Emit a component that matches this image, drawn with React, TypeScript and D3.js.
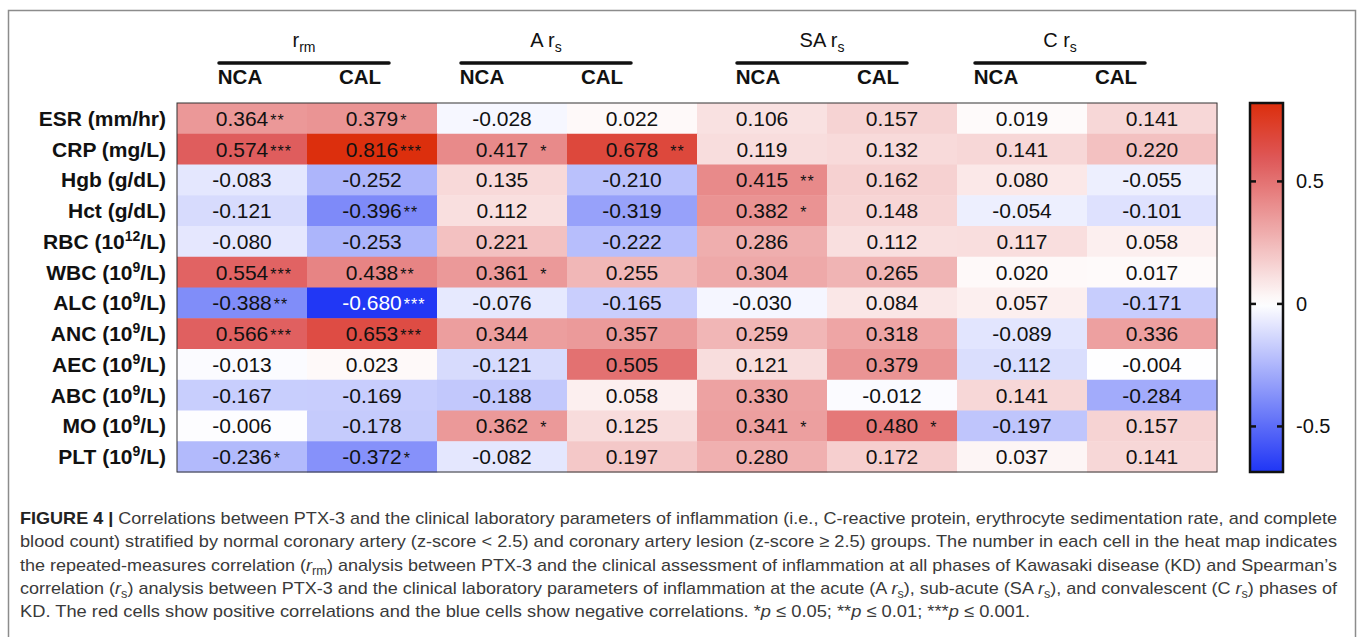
import React, { useEffect } from 'react';
import * as d3 from 'd3';

// rows of the heat map (^n marks a superscript)
const rowLabels = [
  'ESR (mm/hr)', 'CRP (mg/L)', 'Hgb (g/dL)', 'Hct (g/dL)', 'RBC (10^12/L)', 'WBC (10^9/L)',
  'ALC (10^9/L)', 'ANC (10^9/L)', 'AEC (10^9/L)', 'ABC (10^9/L)', 'MO (10^9/L)', 'PLT (10^9/L)',
];

const groupTitles = ['r', 'A r', 'SA r', 'C r'];
const groupSubs = ['rm', 's', 's', 's'];
const subgroups = ['NCA', 'CAL'];

// columns: rrm NCA, rrm CAL, A NCA, A CAL, SA NCA, SA CAL, C NCA, C CAL
const values = [
  [0.364, 0.379, -0.028, 0.022, 0.106, 0.157, 0.019, 0.141],
  [0.574, 0.816, 0.417, 0.678, 0.119, 0.132, 0.141, 0.220],
  [-0.083, -0.252, 0.135, -0.210, 0.415, 0.162, 0.080, -0.055],
  [-0.121, -0.396, 0.112, -0.319, 0.382, 0.148, -0.054, -0.101],
  [-0.080, -0.253, 0.221, -0.222, 0.286, 0.112, 0.117, 0.058],
  [0.554, 0.438, 0.361, 0.255, 0.304, 0.265, 0.020, 0.017],
  [-0.388, -0.680, -0.076, -0.165, -0.030, 0.084, 0.057, -0.171],
  [0.566, 0.653, 0.344, 0.357, 0.259, 0.318, -0.089, 0.336],
  [-0.013, 0.023, -0.121, 0.505, 0.121, 0.379, -0.112, -0.004],
  [-0.167, -0.169, -0.188, 0.058, 0.330, -0.012, 0.141, -0.284],
  [-0.006, -0.178, 0.362, 0.125, 0.341, 0.480, -0.197, 0.157],
  [-0.236, -0.372, -0.082, 0.197, 0.280, 0.172, 0.037, 0.141],
];

// number of significance stars per cell
const stars = [
  [2, 1, 0, 0, 0, 0, 0, 0],
  [3, 3, 1, 2, 0, 0, 0, 0],
  [0, 0, 0, 0, 2, 0, 0, 0],
  [0, 2, 0, 0, 1, 0, 0, 0],
  [0, 0, 0, 0, 0, 0, 0, 0],
  [3, 2, 1, 0, 0, 0, 0, 0],
  [2, 3, 0, 0, 0, 0, 0, 0],
  [3, 3, 0, 0, 0, 0, 0, 0],
  [0, 0, 0, 0, 0, 0, 0, 0],
  [0, 0, 0, 0, 0, 0, 0, 0],
  [0, 0, 1, 0, 1, 1, 0, 0],
  [1, 1, 0, 0, 0, 0, 0, 0],
];

const legendTicks = [0.5, 0, -0.5];
const colorDomain = [-0.686, 0, 0.6, 0.82];
const colorRange = ['#1f35f5', '#ffffff', '#de5656', '#dc2e0c'];

type Seg = { t: string; b?: boolean; i?: boolean; sub?: boolean };
const captionLines: Seg[][] = [
  [{ t: 'FIGURE 4 | ', b: true }, { t: 'Correlations between PTX-3 and the clinical laboratory parameters of inflammation (i.e., C-reactive protein, erythrocyte sedimentation rate, and complete' }],
  [{ t: 'blood count) stratified by normal coronary artery (z-score < 2.5) and coronary artery lesion (z-score \u2265 2.5) groups. The number in each cell in the heat map indicates' }],
  [{ t: 'the repeated-measures correlation (' }, { t: 'r', i: true }, { t: 'rm', sub: true }, { t: ') analysis between PTX-3 and the clinical assessment of inflammation at all phases of Kawasaki disease (KD) and Spearman\u2019s' }],
  [{ t: 'correlation (' }, { t: 'r', i: true }, { t: 's', sub: true }, { t: ') analysis between PTX-3 and the clinical laboratory parameters of inflammation at the acute (A ' }, { t: 'r', i: true }, { t: 's', sub: true }, { t: '), sub-acute (SA ' }, { t: 'r', i: true }, { t: 's', sub: true }, { t: '), and convalescent (C ' }, { t: 'r', i: true }, { t: 's', sub: true }, { t: ') phases of' }],
  [{ t: 'KD. The red cells show positive correlations and the blue cells show negative correlations. *' }, { t: 'p', i: true }, { t: ' \u2264 0.05; **' }, { t: 'p', i: true }, { t: ' \u2264 0.01; ***' }, { t: 'p', i: true }, { t: ' \u2264 0.001.' }],
];

const FONT = 'Liberation Sans, Arial, sans-serif';
const CELL_FS = 21;

// Arial metrics for the numbers, to hang the stars after a centred value
const charW: Record<string, number> = { '-': 0.333, '.': 0.278 };
const textWidth = (s: string, fs: number) =>
  s.split('').reduce((a, c) => a + (charW[c] ?? 0.556), 0) * fs;

const renderLabel = (label: string) => {
  const parts = label.split(/\^(\d+)/);
  const out: React.ReactNode[] = [];
  parts.forEach((p, k) => {
    if (k % 2 === 1) {
      out.push(<tspan key={k} fontSize={14} dy={-8}>{p}</tspan>);
    } else if (p) {
      out.push(<tspan key={k} dy={k > 0 ? 8 : 0}>{p}</tspan>);
    }
  });
  return out;
};

export default function App() {
  useEffect(() => {
    document.body.style.margin = '0';
  }, []);

  const x = d3.scaleBand<number>().domain(d3.range(8)).range([177, 1217]);
  const y = d3.scaleBand<string>().domain(rowLabels).range([103, 472]);
  const bw = x.bandwidth();
  const bh = y.bandwidth();

  const color = d3
    .scaleLinear<string>()
    .domain(colorDomain)
    .range(colorRange)
    .interpolate(d3.interpolateRgb)
    .clamp(true);

  const vMin = colorDomain[0];
  const vMax = colorDomain[colorDomain.length - 1];
  const legendY = d3.scaleLinear().domain([vMin, vMax]).range([472, 103]);
  const legX = 1250;
  const legW = 33;
  const gradStops = d3.range(0, 1.0001, 0.025).map((t) => ({ off: t, c: color(vMin + t * (vMax - vMin)) }));

  // header groups sit a little off the column centres in the original
  const groupShift = [-3, -21, -5, -27];
  const starGap = [2, 12, 12, 12];

  return (
    <svg width={1360} height={637} style={{ display: 'block', background: '#fff' }} fontFamily={FONT}>
      <defs>
        <linearGradient id="leg" x1="0" y1="1" x2="0" y2="0">
          {gradStops.map((s, k) => (
            <stop key={k} offset={s.off} stopColor={s.c} />
          ))}
        </linearGradient>
      </defs>

      {/* figure frame */}
      <path d="M8.5,637 V10.5 H1355.5 V637" fill="none" stroke="#8c8c8c" strokeWidth={1.5} />

      {/* column headers */}
      {groupTitles.map((g, gi) => {
        const cx = (x(gi * 2)! + x(gi * 2 + 1)! + bw) / 2 + groupShift[gi];
        return (
          <g key={g}>
            <text x={cx} y={47} textAnchor="middle" fontSize={20} fill="#111">
              {g}
              <tspan fontSize={14} dy={5}>{groupSubs[gi]}</tspan>
            </text>
            <line x1={cx - 85} x2={cx + 85} y1={63} y2={63} stroke="#111" strokeWidth={3.5} strokeLinecap="round" />
            {subgroups.map((s, si) => (
              <text key={s} x={cx + (si === 0 ? -64 : 56)} y={84} textAnchor="middle" fontSize={20.5} fontWeight="bold" fill="#111">
                {s}
              </text>
            ))}
          </g>
        );
      })}

      {/* row labels */}
      {rowLabels.map((r) => (
        <text key={r} x={166} y={y(r)! + bh / 2 + 7.5} textAnchor="end" fontSize={21} fontWeight="bold" fill="#111">
          {renderLabel(r)}
        </text>
      ))}

      {/* cells */}
      {rowLabels.map((r, ri) =>
        values[ri].map((v, ci) => {
          const c = color(v);
          const txt = d3.lab(c).l < 45 ? '#fff' : '#111';
          const label = v.toFixed(3);
          const cx = x(ci)! + bw / 2;
          const cy = y(r)! + bh / 2 + 7.5;
          const n = stars[ri][ci];
          return (
            <g key={`${ri}-${ci}`}>
              <rect x={x(ci)} y={y(r)} width={bw + 0.5} height={bh + 0.5} fill={c} />
              <text x={cx} y={cy} textAnchor="middle" fontSize={CELL_FS} fill={txt}>
                {label}
              </text>
              {n > 0 && (
                <text
                  x={cx + textWidth(label, CELL_FS) / 2 + starGap[Math.floor(ci / 2)]}
                  y={cy}
                  fontSize={16}
                  letterSpacing={1}
                  fill={txt}
                >
                  {'*'.repeat(n)}
                </text>
              )}
            </g>
          );
        })
      )}
      <rect x={177} y={103} width={1040} height={369} fill="none" stroke="#333" strokeWidth={1} />

      {/* colour legend */}
      <rect x={legX} y={legendY(vMax)} width={legW} height={legendY(vMin) - legendY(vMax)} fill="url(#leg)" stroke="#111" strokeWidth={2.5} />
      {legendTicks.map((t) => (
        <g key={t}>
          <line x1={legX} x2={legX + 6} y1={legendY(t)} y2={legendY(t)} stroke="#111" strokeWidth={2.5} />
          <line x1={legX + legW - 6} x2={legX + legW} y1={legendY(t)} y2={legendY(t)} stroke="#111" strokeWidth={2.5} />
          <text x={1296} y={legendY(t) + 7} fontSize={20} fill="#111">
            {t === 0 ? '0' : String(t)}
          </text>
        </g>
      ))}

      {/* caption */}
      {captionLines.map((line, li) => (
        <text
          key={li}
          x={20}
          y={524 + li * 23.3}
          fontSize={17}
          fill="#3a3a3a"
          fontFamily="'Liberation Sans Narrow', 'Liberation Sans', Arial, sans-serif"
          textLength={li < 4 ? 1317 : 1010}
          lengthAdjust="spacingAndGlyphs"
        >
          {line.map((s, k) => {
            const prevSub = k > 0 && line[k - 1].sub;
            return (
              <tspan
                key={k}
                fontWeight={s.b ? 'bold' : undefined}
                fill={s.b ? '#222' : undefined}
                fontStyle={s.i ? 'italic' : undefined}
                fontSize={s.sub ? 12 : undefined}
                dy={s.sub ? 4 : prevSub ? -4 : undefined}
              >
                {s.t}
              </tspan>
            );
          })}
        </text>
      ))}
    </svg>
  );
}
